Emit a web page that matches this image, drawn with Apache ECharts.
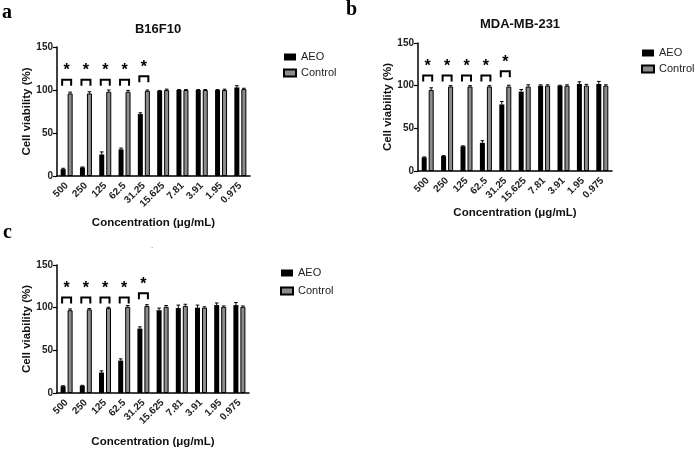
<!DOCTYPE html>
<html>
<head>
<meta charset="utf-8">
<script src="https://cdn.jsdelivr.net/npm/echarts@6/dist/echarts.min.js"></script>
<style>
html,body{margin:0;padding:0;background:#fff;}
#chart{width:700px;height:449px;}
</style>
</head>
<body>
<div id="chart"></div>
<script>
// ---------- data ----------
var concentrations = ['500','250','125','62.5','31.25','15.625','7.81','3.91','1.95','0.975'];
var yTicks = [0, 50, 100, 150];

var aTitle = 'B16F10';
var aAEO = [8, 10, 25, 31, 72, 99, 100, 100, 100, 103];
var aAEOErr = [1, 0.5, 3, 1.5, 1.5, 0.5, 0.5, 0.5, 0.5, 2];
var aControl = [96, 96, 98, 98, 99, 100, 100, 100, 100, 101];
var aControlErr = [1.5, 2, 2, 1.5, 1, 1, 0.5, 0.5, 1, 1];
var aBracket = [112, 112, 112, 112, 116];

var bTitle = 'MDA-MB-231';
var bAEO = [16, 17.5, 29, 33, 78, 93, 100, 100, 102, 102];
var bAEOErr = [0.5, 0.5, 0.5, 2.5, 3.5, 2.5, 1, 0.5, 2.5, 3];
var bControl = [95, 99, 99, 99, 99, 99, 100, 100, 100, 100];
var bControlErr = [2.5, 1, 1, 1, 1.5, 2, 1, 1, 1.5, 1];
var bBracket = [112, 112, 112, 112, 117];

var cAEO = [8, 8.5, 24, 38, 75.5, 97, 99.5, 100, 103, 103];
var cAEOErr = [0.5, 0.5, 2, 2, 2, 2.5, 3.5, 3, 2.5, 3];
var cControl = [97, 98, 99.5, 101, 102, 101, 102, 100, 101, 101];
var cControlErr = [1.5, 1, 1, 1.5, 1.5, 1.5, 2, 1, 1, 1];
var cBracket = [112, 112, 112, 112, 117];

var seriesNames = ['AEO', 'Control'];
var yName = 'Cell viability (%)';
var xName = 'Concentration (μg/mL)';
var sigMark = '*';

// ---------- styling ----------
var FONT = 'Liberation Sans, Arial, sans-serif';
var BAR_W = 5, BAR_OFF = 3.5, BRACKET_HALF = 4.5, BRACKET_LEG = 7;
var panels = [
  {grid:{left:57, top:47, width:193, height:129}, nameGap:41, legend:{left:283, top:51}, legendGap:4,
   aeo:aAEO, aeoErr:aAEOErr, ctl:aControl, ctlErr:aControlErr, br:aBracket},
  {grid:{left:418, top:43, width:194, height:128}, nameGap:35, legend:{left:641, top:47}, legendGap:4,
   aeo:bAEO, aeoErr:bAEOErr, ctl:bControl, ctlErr:bControlErr, br:bBracket},
  {grid:{left:57, top:265, width:192, height:128}, nameGap:43, legend:{left:280, top:267}, legendGap:6,
   aeo:cAEO, aeoErr:cAEOErr, ctl:cControl, ctlErr:cControlErr, br:cBracket}
];

function errSeries(vals, errs, off, i){
  return {
    type:'custom', xAxisIndex:i, yAxisIndex:i, silent:true, z:5,
    data: vals.map(function(v,k){ return [k, v, errs[k]]; }),
    renderItem: function(params, api){
      var idx = api.value(0), v = api.value(1), e = api.value(2);
      var p0 = api.coord([idx, v]);
      var p1 = api.coord([idx, v + e]);
      var x = p0[0] + off;
      return {type:'group', children:[
        {type:'line', shape:{x1:x, y1:p0[1], x2:x, y2:p1[1]}, style:{stroke:'#000', lineWidth:1}},
        {type:'line', shape:{x1:x-1.8, y1:p1[1], x2:x+1.8, y2:p1[1]}, style:{stroke:'#000', lineWidth:1}}
      ]};
    }
  };
}
function bracketSeries(tops, i){
  return {
    type:'custom', xAxisIndex:i, yAxisIndex:i, silent:true, z:6,
    data: tops.map(function(t,k){ return [k, t]; }),
    renderItem: function(params, api){
      var idx = api.value(0), t = api.value(1);
      var pt = api.coord([idx, t]);
      var pb = api.coord([idx, t - BRACKET_LEG]);
      var x = pt[0];
      return {type:'group', children:[
        {type:'polyline', shape:{points:[[x-BRACKET_HALF,pb[1]],[x-BRACKET_HALF,pt[1]],[x+BRACKET_HALF,pt[1]],[x+BRACKET_HALF,pb[1]]]},
         style:{stroke:'#000', lineWidth:2, fill:null}},
        {type:'text', x:x, y:pt[1]-1, style:{text:sigMark, fill:'#000', font:'bold 16px '+FONT, align:'center', verticalAlign:'bottom'}}
      ]};
    }
  };
}

var option = {
  backgroundColor:'#fff',
  animation:false,
  title:[
    {text:aTitle, left:153, top:18, textAlign:'center', textStyle:{fontFamily:FONT, fontSize:13, fontWeight:'bold', color:'#111'}},
    {text:bTitle, left:515, top:13, textAlign:'center', textStyle:{fontFamily:FONT, fontSize:13, fontWeight:'bold', color:'#111'}}
  ],
  graphic:[
    {type:'text', left:2, top:3, style:{text:'a', font:'bold 20px Liberation Serif, Times New Roman, serif', fill:'#000'}},
    {type:'text', left:346, top:0, style:{text:'b', font:'bold 20px Liberation Serif, Times New Roman, serif', fill:'#000'}},
    {type:'text', left:3, top:223, style:{text:'c', font:'bold 20px Liberation Serif, Times New Roman, serif', fill:'#000'}},
    {type:'text', left:151, top:242, style:{text:'.', font:'8px '+FONT, fill:'#555'}}
  ],
  legend: panels.map(function(p){
    return {left:p.legend.left, top:p.legend.top, padding:0, orient:'vertical', itemWidth:12, itemHeight:7, itemGap:p.legendGap,
      icon:'rect', selectedMode:false, data:seriesNames,
      textStyle:{fontFamily:FONT, fontSize:11, lineHeight:12, color:'#222'}};
  }),
  grid: panels.map(function(p){ return Object.assign({containLabel:false}, p.grid); }),
  xAxis: panels.map(function(p,i){
    return {type:'category', gridIndex:i, data:concentrations, boundaryGap:true,
      name:xName, nameLocation:'middle', nameGap:p.nameGap,
      nameTextStyle:{fontFamily:FONT, fontSize:11.5, fontWeight:'bold', color:'#111'},
      axisLine:{lineStyle:{color:'#000', width:1.5}},
      axisTick:{alignWithLabel:true, length:4, lineStyle:{color:'#000', width:1.2}},
      axisLabel:{rotate:45, interval:0, margin:8, fontFamily:FONT, fontSize:10, fontWeight:'bold', color:'#222'}};
  }),
  yAxis: panels.map(function(p,i){
    return {type:'value', gridIndex:i, min:yTicks[0], max:yTicks[yTicks.length-1], interval:yTicks[1]-yTicks[0],
      name:yName, nameLocation:'middle', nameGap:24, nameRotate:90,
      nameTextStyle:{fontFamily:FONT, fontSize:11.5, fontWeight:'bold', color:'#111'},
      splitLine:{show:false},
      axisLine:{show:true, lineStyle:{color:'#000', width:1.5}},
      axisTick:{show:true, length:4, lineStyle:{color:'#000', width:1.2}},
      axisLabel:{margin:4, fontFamily:FONT, fontSize:10, fontWeight:'bold', color:'#222'}};
  }),
  series: []
};

panels.forEach(function(p,i){
  option.series.push({name:seriesNames[0], type:'bar', xAxisIndex:i, yAxisIndex:i, data:p.aeo,
    barWidth:BAR_W, barGap:'40%', itemStyle:{color:'#000'}});
  option.series.push({name:seriesNames[1], type:'bar', xAxisIndex:i, yAxisIndex:i, data:p.ctl,
    barWidth:BAR_W, barGap:'40%', itemStyle:{color:'#8c8c8c', borderColor:'#000', borderWidth:1}});
  option.series.push(errSeries(p.aeo, p.aeoErr, -BAR_OFF, i));
  option.series.push(errSeries(p.ctl, p.ctlErr, BAR_OFF, i));
  option.series.push(bracketSeries(p.br, i));
});

var chart = echarts.init(document.getElementById('chart'), null, {renderer:'canvas'});
chart.setOption(option);
</script>
</body>
</html>
